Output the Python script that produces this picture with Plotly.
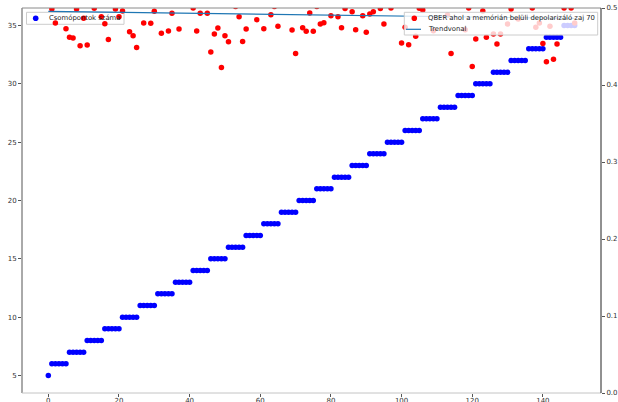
import plotly.graph_objects as go

# Iteration index shared by both series
steps = list(range(150))

# Number of nodes per iteration (left axis)
nodes = [
    5,
    6, 6, 6, 6, 6,
    7, 7, 7, 7, 7,
    8, 8, 8, 8, 8,
    9, 9, 9, 9, 9,
    10, 10, 10, 10, 10,
    11, 11, 11, 11, 11,
    12, 12, 12, 12, 12,
    13, 13, 13, 13, 13,
    14, 14, 14, 14, 14,
    15, 15, 15, 15, 15,
    16, 16, 16, 16, 16,
    17, 17, 17, 17, 17,
    18, 18, 18, 18, 18,
    19, 19, 19, 19, 19,
    20, 20, 20, 20, 20,
    21, 21, 21, 21, 21,
    22, 22, 22, 22, 22,
    23, 23, 23, 23, 23,
    24, 24, 24, 24, 24,
    25, 25, 25, 25, 25,
    26, 26, 26, 26, 26,
    27, 27, 27, 27, 27,
    28, 28, 28, 28, 28,
    29, 29, 29, 29, 29,
    30, 30, 30, 30, 30,
    31, 31, 31, 31, 31,
    32, 32, 32, 32, 32,
    33, 33, 33, 33, 33,
    34, 34, 34, 34, 34,
    35, 35, 35, 35,
]

# QBER with in-memory depolarizing noise 70 (right axis)
qber = [
    0.512, 0.4987, 0.4805, 0.521, 0.508, 0.4730, 0.4619, 0.4609, 0.4987, 0.4509,
    0.4866, 0.4518, 0.515, 0.4996, 0.524, 0.4887, 0.4796, 0.4592, 0.510, 0.4987,
    0.4887, 0.4961, 0.518, 0.4691, 0.4639, 0.4488, 0.527, 0.4805, 0.506, 0.4801,
    0.4957, 0.513, 0.4671, 0.520, 0.4701, 0.4931, 0.509, 0.4727, 0.516, 0.531,
    0.511, 0.5000, 0.4701, 0.4931, 0.519, 0.4931, 0.4427, 0.4661, 0.4740, 0.4228,
    0.4639, 0.4561, 0.514, 0.502, 0.4887, 0.4566, 0.4727, 0.507, 0.522, 0.4848,
    0.512, 0.4730, 0.517, 0.4913, 0.502, 0.4762, 0.525, 0.509, 0.514, 0.4714,
    0.4410, 0.519, 0.4743, 0.4697, 0.4935, 0.4697, 0.502, 0.4792, 0.4809, 0.511,
    0.4900, 0.523, 0.4887, 0.4743, 0.4993, 0.508, 0.4952, 0.4717, 0.516, 0.4900,
    0.4684, 0.4922, 0.4952, 0.520, 0.4993, 0.4792, 0.513, 0.5000, 0.526, 0.510,
    0.4544, 0.4749, 0.4522, 0.515, 0.4632, 0.4996, 0.4974, 0.515, 0.508, 0.4704,
    0.521, 0.512, 0.517, 0.4909, 0.4410, 0.509, 0.524, 0.514, 0.4717, 0.5000,
    0.4241, 0.4596, 0.511, 0.4961, 0.4619, 0.518, 0.4661, 0.4531, 0.4661, 0.507,
    0.4792, 0.4987, 0.522, 0.4857, 0.513, 0.516, 0.510, 0.5000, 0.4749, 0.4805,
    0.4540, 0.4301, 0.4762, 0.4336, 0.4531, 0.519, 0.5000, 0.512, 0.5000, 0.4805,
]

# Linear trend of the QBER series (start and end of the fitted line)
trend_x = [0, 149]
trend_y = [0.4957, 0.4865]

x_ticks = [0, 20, 40, 60, 80, 100, 120, 140]
left_ticks = [5, 10, 15, 20, 25, 30, 35]
right_ticks = [0.0, 0.1, 0.2, 0.3, 0.4, 0.5]

NODE_LABEL = "Csomópontok száma"
QBER_LABEL = "QBER ahol a memórián belüli depolarizáló zaj 70"
TREND_LABEL = "Trendvonal"

BLUE = "#0000ff"
RED = "#ff0000"
TREND_COLOR = "#1f77b4"

W, H = 618, 402
M_L, M_R, M_T, M_B = 22, 17, 8, 9
PW, PH = W - M_L - M_R, H - M_T - M_B

FONT = "DejaVu Sans"
TICK_FONT = dict(family=FONT, size=7, color="#333333")
LEGEND_FONT = dict(family=FONT, size=6.85, color="#222222")


def px_x(px):
    """Horizontal pixel position -> paper coordinate."""
    return (px - M_L) / PW


def px_y(py):
    """Vertical pixel position (from top) -> paper coordinate."""
    return 1 - (py - M_T) / PH


fig = go.Figure()

fig.add_trace(go.Scatter(
    x=steps, y=nodes, mode="markers", name=NODE_LABEL,
    marker=dict(color=BLUE, size=5.5, line=dict(width=0)),
    yaxis="y",
))
fig.add_trace(go.Scatter(
    x=steps, y=qber, mode="markers", name=QBER_LABEL,
    marker=dict(color=RED, size=5.5, line=dict(width=0)),
    yaxis="y2",
))
fig.add_trace(go.Scatter(
    x=trend_x, y=trend_y, mode="lines", name=TREND_LABEL,
    line=dict(color=TREND_COLOR, width=1.2),
    yaxis="y2",
))

axis_common = dict(
    showgrid=False, zeroline=False, showline=False, automargin=False,
    ticks="outside", ticklen=3, tickwidth=1, tickcolor="#555555",
    tickfont=TICK_FONT,
)

shapes = []
annotations = []

# Spines drawn individually so each side can carry its own tone
for x0, x1, y0, y1, color in [
    (0, 0, 0, 1, "#555555"),
    (0, 1, 1, 1, "#8a8a8a"),
    (0, 1, 0, 0, "#c4c4c4"),
    (1, 1, 0, 1, "#222222"),
]:
    shapes.append(dict(type="line", xref="paper", yref="paper",
                       x0=x0, x1=x1, y0=y0, y1=y1,
                       line=dict(color=color, width=1), layer="above"))


def legend_box(left, top, right, bottom, layer):
    shapes.append(dict(type="rect", xref="paper", yref="paper",
                       x0=px_x(left), x1=px_x(right),
                       y0=px_y(bottom), y1=px_y(top),
                       fillcolor="rgba(255,255,255,0.8)",
                       line=dict(color="#cccccc", width=1), layer=layer))


def legend_dot(cx, cy, color, layer, r=2.8):
    shapes.append(dict(type="circle", xref="paper", yref="paper",
                       x0=px_x(cx - r), x1=px_x(cx + r),
                       y0=px_y(cy + r), y1=px_y(cy - r),
                       fillcolor=color, line=dict(width=0), layer=layer))


def legend_line(x0, x1, cy, color, layer):
    shapes.append(dict(type="line", xref="paper", yref="paper",
                       x0=px_x(x0), x1=px_x(x1), y0=px_y(cy), y1=px_y(cy),
                       line=dict(color=color, width=1.2), layer=layer))


def legend_text(x, cy, text):
    annotations.append(dict(xref="paper", yref="paper", x=px_x(x), y=px_y(cy),
                            xanchor="left", yanchor="middle", text=text,
                            showarrow=False, font=LEGEND_FONT, borderpad=0))


# Legend of the node-count axis (upper left, beneath the QBER layer)
legend_box(26.5, 12.3, 124, 24.3, "below")
legend_dot(35.7, 18.3, BLUE, "below")
legend_text(47.5, 18.3, NODE_LABEL)

# Legend of the QBER axis (upper right, on top of everything)
legend_box(404.3, 12.3, 597.7, 35, "above")
legend_dot(414.3, 18.3, RED, "above")
legend_text(426.5, 18.3, QBER_LABEL)
legend_line(406, 421, 29.3, TREND_COLOR, "above")
legend_text(426.5, 29.3, TREND_LABEL)

fig.update_layout(
    width=W, height=H,
    margin=dict(l=M_L, r=M_R, t=M_T, b=M_B),
    paper_bgcolor="white", plot_bgcolor="white",
    showlegend=False,
    xaxis=dict(range=[-7.45, 156.45], tickvals=x_ticks,
               ticklabelstandoff=-2, **axis_common),
    yaxis=dict(range=[3.5, 36.5], tickvals=left_ticks, **axis_common),
    yaxis2=dict(range=[0, 0.5], tickvals=right_ticks, tickformat=".1f",
                overlaying="y", side="right", **axis_common),
    shapes=shapes,
    annotations=annotations,
)

fig.write_html("out.html")
